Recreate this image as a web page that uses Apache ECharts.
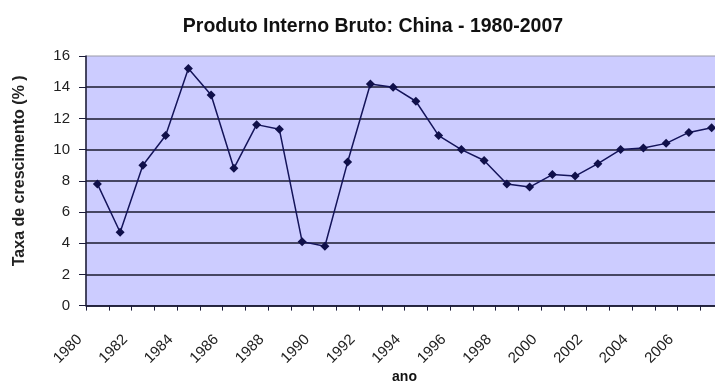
<!DOCTYPE html>
<html>
<head>
<meta charset="utf-8">
<script src="https://cdn.jsdelivr.net/npm/echarts@6/dist/echarts.min.js"></script>
<style>
  html, body { margin: 0; padding: 0; background: #ffffff; }
  #chart { width: 715px; height: 385px; }
</style>
</head>
<body>
<div id="chart"></div>
<script>
// Annual GDP growth of China, 1980-2007 (%)
const years = ['1980','1981','1982','1983','1984','1985','1986','1987','1988','1989',
               '1990','1991','1992','1993','1994','1995','1996','1997','1998','1999',
               '2000','2001','2002','2003','2004','2005','2006','2007'];
const growth = [7.8, 4.7, 9.0, 10.9, 15.2, 13.5, 8.8, 11.6, 11.3, 4.1,
                3.8, 9.2, 14.2, 14.0, 13.1, 10.9, 10.0, 9.3, 7.8, 7.6,
                8.4, 8.3, 9.1, 10.0, 10.1, 10.4, 11.1, 11.4];
const titleText = 'Produto Interno Bruto: China - 1980-2007';
const yName = 'Taxa de crescimento (% )';
const xName = 'ano';

const chart = echarts.init(document.getElementById('chart'), null, { renderer: 'canvas' });
const font = 'Liberation Sans, Arial, sans-serif';

chart.setOption({
  animation: false,
  backgroundColor: '#ffffff',
  title: {
    text: titleText,
    left: 368,
    top: 12,
    textAlign: 'center',
    textStyle: { fontFamily: font, fontSize: 19.5, fontWeight: 'bold', color: '#111' }
  },
  grid: {
    left: 86, top: 56, right: -8, bottom: 79.4,
    containLabel: false,
    outerBoundsMode: 'none',
    show: true,
    backgroundColor: '#ccccff',
    borderColor: '#9a9aa8',
    borderWidth: 1
  },
  xAxis: {
    type: 'category',
    data: years,
    boundaryGap: true,
    name: xName,
    nameLocation: 'middle',
    nameGap: 65,
    nameMoveOverlap: false,
    nameTextStyle: { fontFamily: font, fontSize: 14, fontWeight: 'bold', color: '#111' },
    axisLine: { lineStyle: { color: '#1c1c3a', width: 1.5 } },
    axisTick: { show: true, interval: 0, length: 5, lineStyle: { color: '#1c1c3a' } },
    axisLabel: {
      interval: 1,
      rotate: 45,
      margin: 14,
      padding: [0, 25, 0, 0],
      fontFamily: font,
      fontSize: 15,
      color: '#222'
    },
    splitLine: { show: false }
  },
  yAxis: {
    type: 'value',
    min: 0,
    max: 16,
    interval: 2,
    name: yName,
    nameLocation: 'middle',
    nameGap: 58,
    nameMoveOverlap: false,
    nameTextStyle: { fontFamily: font, fontSize: 16, fontWeight: 'bold', color: '#222', padding: [0, 0, 0, 20] },
    axisLine: { show: true, lineStyle: { color: '#1c1c3a', width: 1.5 } },
    axisTick: { show: true, length: 7, lineStyle: { color: '#1c1c3a' } },
    axisLabel: { margin: 16, fontFamily: font, fontSize: 15, color: '#222' },
    splitLine: { show: true, showMaxLine: false, lineStyle: { color: '#1a1a2e', width: 1.5 } }
  },
  series: [{
    type: 'line',
    data: growth,
    symbol: 'diamond',
    symbolSize: 9,
    showAllSymbol: true,
    lineStyle: { color: '#14145a', width: 1.5 },
    itemStyle: { color: '#10104a' }
  }]
});
</script>
</body>
</html>
